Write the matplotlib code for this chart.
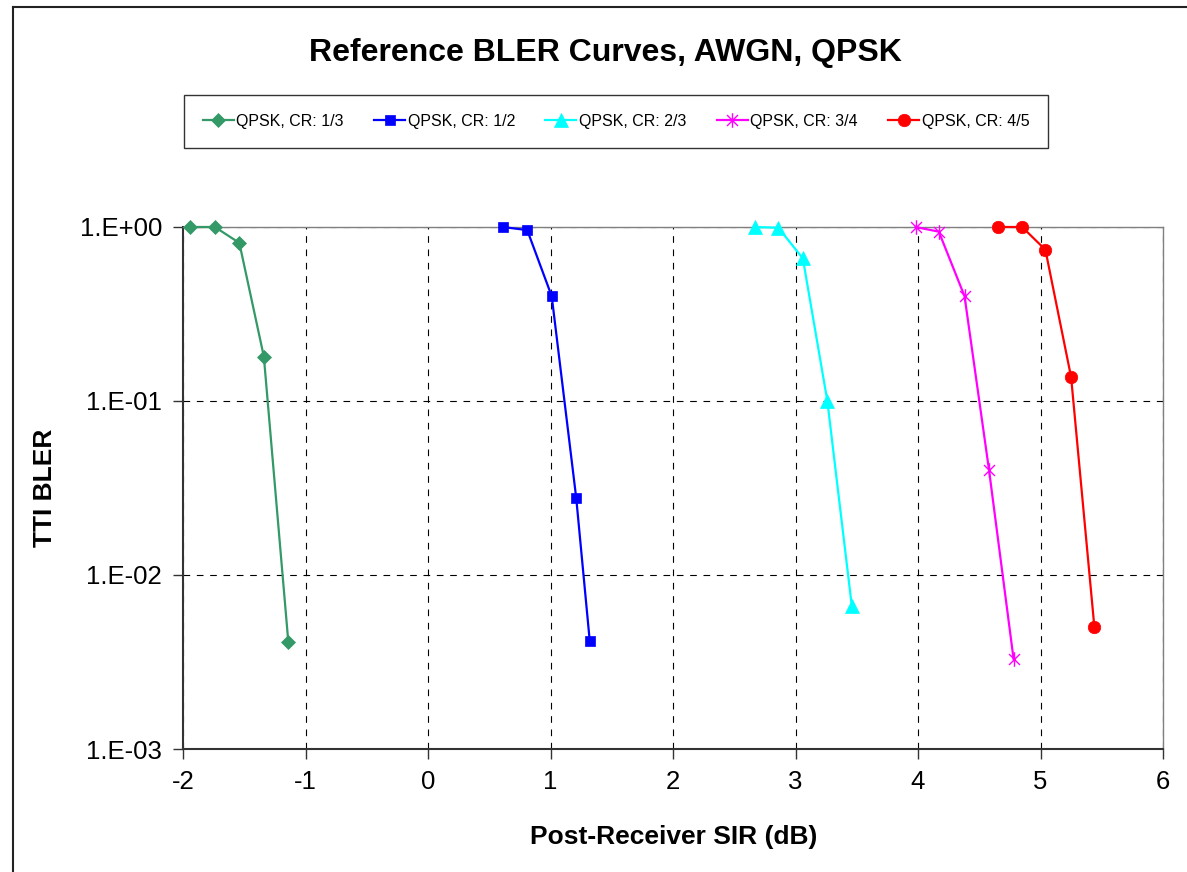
import matplotlib
matplotlib.use("Agg")
import matplotlib.pyplot as plt
from matplotlib.path import Path
from matplotlib.lines import Line2D
from matplotlib.ticker import FixedLocator, FixedFormatter, NullLocator

plt.rcParams['font.family'] = ['Liberation Sans', 'DejaVu Sans']

# ---- data ----
labels = ["QPSK, CR: 1/3", "QPSK, CR: 1/2", "QPSK, CR: 2/3", "QPSK, CR: 3/4", "QPSK, CR: 4/5"]
x_13 = [-1.94, -1.74, -1.54, -1.34, -1.14]
y_13 = [1.0, 1.0, 0.81, 0.18, 0.0041]
x_12 = [0.61, 0.81, 1.01, 1.21, 1.32]
y_12 = [1.0, 0.96, 0.40, 0.0277, 0.0042]
x_23 = [2.67, 2.86, 3.06, 3.26, 3.46]
y_23 = [1.0, 0.99, 0.66, 0.10, 0.0066]
x_34 = [3.98, 4.17, 4.38, 4.58, 4.78]
y_34 = [1.0, 0.94, 0.40, 0.040, 0.0033]
x_45 = [4.65, 4.85, 5.04, 5.25, 5.44]
y_45 = [1.0, 1.0, 0.74, 0.137, 0.0050]

xticks = [-2, -1, 0, 1, 2, 3, 4, 5, 6]
yticks = [1e-3, 1e-2, 1e-1, 1e0]
ytick_labels = ["1.E-03", "1.E-02", "1.E-01", "1.E+00"]

colors = ["#339966", "#0000FF", "#00FFFF", "#FF00FF", "#FF0000"]

star = Path([(0, -1), (0, 1), (-0.75, -0.75), (0.75, 0.75), (-0.75, 0.75), (0.75, -0.75)],
            [Path.MOVETO, Path.LINETO, Path.MOVETO, Path.LINETO, Path.MOVETO, Path.LINETO])

W, H = 1187, 872
fig = plt.figure(figsize=(W / 100, H / 100), dpi=100)
ax = fig.add_axes([183 / W, 1 - 749 / H, (1163 - 183) / W, (749 - 227) / H])

series = [(x_13, y_13, 'D', 7.5), (x_12, y_12, 's', 7.5), (x_23, y_23, '^', 9.5),
          (x_34, y_34, star, 10.5), (x_45, y_45, 'o', 9)]
for (xs, ys, m, ms), c, lab in zip(series, colors, labels):
    kw = dict(marker=m, markersize=ms, color=c, lw=1.6, label=lab,
              markerfacecolor=c, markeredgecolor=c, clip_on=False, zorder=3)
    kw['markeredgewidth'] = 1.0 if m is star else 0.5
    ax.plot(xs, ys, **kw)

ax.set_yscale('log')
ax.set_xlim(-2, 6)
ax.set_ylim(1e-3, 1)
ax.xaxis.set_major_locator(FixedLocator(xticks))
ax.set_xticklabels([str(t) for t in xticks])
ax.yaxis.set_major_locator(FixedLocator(yticks))
ax.yaxis.set_major_formatter(FixedFormatter(ytick_labels))
ax.yaxis.set_minor_locator(NullLocator())

ax.grid(True, which='major', color='black', linestyle=(0, (6, 6)), linewidth=0.8)
ax.set_axisbelow(True)

for s in ['left', 'bottom']:
    ax.spines[s].set_color('#333333')
    ax.spines[s].set_linewidth(1.5)
for s in ['top', 'right']:
    ax.spines[s].set_color('#808080')
    ax.spines[s].set_linewidth(1.0)

ax.tick_params(axis='both', direction='out', length=7, width=1.0, color='#333333',
               labelsize=18.5)
ax.tick_params(axis='x', pad=8)
ax.tick_params(axis='y', pad=8)

ax.set_xlabel("Post-Receiver SIR (dB)", fontsize=19, fontweight='bold')
ax.set_ylabel("TTI BLER", fontsize=19, fontweight='bold')
ax.xaxis.set_label_coords((674 - 183) / 980, (749 - 837) / 522)
ax.xaxis.label.set_va('center')
ax.yaxis.set_label_coords((45 - 183) / 980, 0.5)
ax.yaxis.label.set_va('center')

fig.text(605 / W, 1 - 53 / H, "Reference BLER Curves, AWGN, QPSK", ha='center', va='center',
         fontsize=23, fontweight='bold')

leg = fig.legend(loc='center', bbox_to_anchor=(616 / W, 1 - 121.5 / H), ncol=5,
                 fontsize=11.5, handlelength=1.95, handletextpad=0.15, columnspacing=1.9,
                 borderpad=1.2, frameon=True, fancybox=False, edgecolor='black')
leg.get_frame().set_linewidth(1.0)

# outer chart border
fig.add_artist(Line2D([13 / W, 13 / W], [0, 1 - 7 / H], color='#222222', lw=1.5,
                      transform=fig.transFigure))
fig.add_artist(Line2D([13 / W, 1], [1 - 7 / H, 1 - 7 / H], color='#222222', lw=1.5,
                      transform=fig.transFigure))

fig.savefig("out.png", dpi=100)
